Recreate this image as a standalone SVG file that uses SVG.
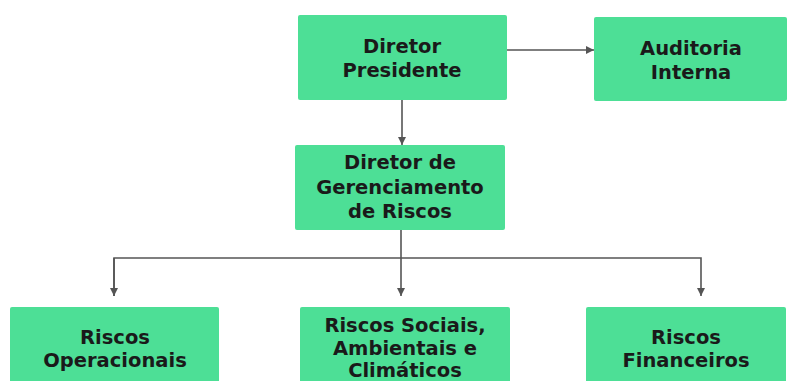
<svg xmlns="http://www.w3.org/2000/svg" width="790" height="381" viewBox="0 0 790 381">
<defs>
<style>
.box{fill:#4ddf96;}
.t{font-family:"DejaVu Sans",Verdana,sans-serif;font-weight:bold;font-size:19.5px;fill:#1a1a1a;text-anchor:middle;}
.c{stroke:#555;stroke-width:1.6;fill:none;}
</style>
<marker id="a" viewBox="0 0 10 10" refX="10" refY="5" markerWidth="8" markerHeight="8" orient="auto" markerUnits="userSpaceOnUse">
<path d="M0,0 L10,5 L0,10 z" fill="#555"/>
</marker>
</defs>
<rect width="790" height="381" fill="#fff"/>
<g id="connectors">
<path class="c" d="M507,50 H594" marker-end="url(#a)"/>
<path class="c" d="M402,100 V145" marker-end="url(#a)"/>
<path class="c" d="M401,230 V296" marker-end="url(#a)"/>
<path class="c" d="M114,296 V258 H701 V296" marker-end="url(#a)"/>
<path class="c" d="M114,258 V296" marker-end="url(#a)"/>
</g>
<g id="presidente">
<rect class="box" x="298" y="15" width="209" height="85" rx="2"/>
<text class="t" x="402" y="53">Diretor</text>
<text class="t" x="402" y="77">Presidente</text>
</g>
<g id="auditoria">
<rect class="box" x="594" y="17" width="193" height="84" rx="2"/>
<text class="t" x="691" y="55">Auditoria</text>
<text class="t" x="691" y="79">Interna</text>
</g>
<g id="gerenciamento">
<rect class="box" x="295" y="145" width="210" height="85" rx="2"/>
<text class="t" x="400" y="169">Diretor de</text>
<text class="t" x="400" y="194">Gerenciamento</text>
<text class="t" x="400" y="218">de Riscos</text>
</g>
<g id="operacionais">
<rect class="box" x="10" y="307" width="209" height="80" rx="2"/>
<text class="t" x="115" y="344">Riscos</text>
<text class="t" x="115" y="367">Operacionais</text>
</g>
<g id="sociais">
<rect class="box" x="300" y="307" width="210" height="80" rx="2"/>
<text class="t" x="405" y="332">Riscos Sociais,</text>
<text class="t" x="405" y="355">Ambientais e</text>
<text class="t" x="405" y="377">Climáticos</text>
</g>
<g id="financeiros">
<rect class="box" x="586" y="307" width="200" height="80" rx="2"/>
<text class="t" x="686" y="344">Riscos</text>
<text class="t" x="686" y="367">Financeiros</text>
</g>
</svg>
